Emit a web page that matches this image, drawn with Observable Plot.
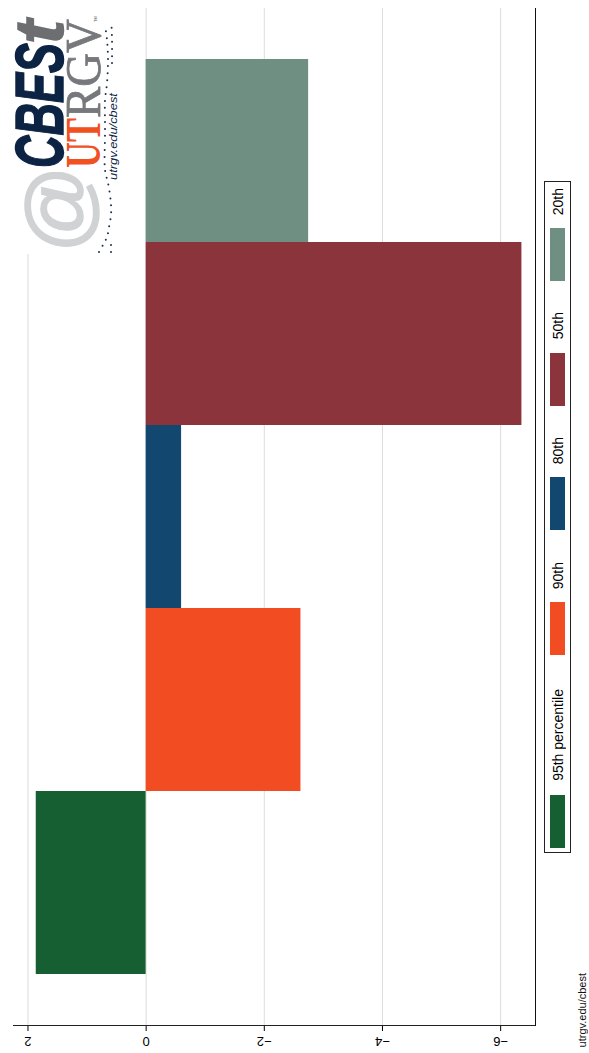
<!DOCTYPE html>
<html><head><meta charset="utf-8">
<script src="https://cdn.jsdelivr.net/npm/d3@7"></script>
<script src="https://cdn.jsdelivr.net/npm/@observablehq/plot@0.6"></script>
<style>
html,body{margin:0;padding:0;background:#fff;}
body{width:589px;height:1053px;position:relative;overflow:hidden;font-family:"Liberation Sans",sans-serif;}
svg{display:block;}
.v{writing-mode:vertical-rl;transform:rotate(180deg);white-space:nowrap;}
#legend{position:absolute;left:544px;top:181px;width:25px;height:670px;border:1px solid #222;background:#fff;font-size:14px;color:#000;}
#legend .lab{position:absolute;left:5px;width:16px;line-height:16px;}
#legend .sw{position:absolute;left:5px;width:15px;height:53px;}
#credit{position:absolute;left:576px;top:973px;font-size:11px;line-height:13px;color:#111;}
#logo{position:absolute;left:0;top:0;}
</style></head><body>
<div id="chart"></div>
<script>
const categories=["20th","50th","80th","90th","95th percentile"];
const values=[-2.75,-6.36,-0.6,-2.62,1.86];
const colors=["#6f8f82","#8c343b","#12476f","#f24c22","#165f33"];
const xTicks=[2,0,-2,-4,-6];
const legendLabelTops=[6,130,255,380,507];
const legendSwatchTops=[46,171,295,420,613];
const data=categories.map((c,i)=>({c,v:values[i]}));

const plot=Plot.plot({
  width:589,height:1053,marginTop:8,marginBottom:28,marginLeft:13,marginRight:54,
  style:{fontFamily:'"Liberation Sans",sans-serif',fontSize:"13px",color:"#000",background:"#fff"},
  x:{domain:[2.245,-6.59],ticks:xTicks,label:null},
  y:{domain:categories,range:[57.5,975.5],padding:0,axis:null,label:null},
  color:{domain:categories,range:colors},
  marks:[
    Plot.gridX(xTicks,{stroke:"#dcdcdc",strokeOpacity:1,strokeWidth:1}),
    Plot.barX(data,{x1:0,x2:"v",y:"c",fill:"c"}),
    Plot.axisX({ticks:xTicks,tickSize:6,tickPadding:5,tickRotate:180,textAnchor:"middle",lineAnchor:"bottom",stroke:"#000",fill:"#000",fontSize:13,label:null,tickFormat:d=>d<0?"\u2212"+Math.abs(d):String(d)}),
    Plot.frame({anchor:"bottom",stroke:"#222"}),
    Plot.frame({anchor:"right",stroke:"#111"})
  ]
});
document.getElementById("chart").appendChild(plot);

// legend
const legend=document.createElement("div");legend.id="legend";
categories.forEach((c,i)=>{
  const l=document.createElement("div");l.className="lab v";l.textContent=c;l.style.top=legendLabelTops[i]+"px";legend.appendChild(l);
  const s=document.createElement("div");s.className="sw";s.style.top=legendSwatchTops[i]+"px";s.style.background=colors[i];legend.appendChild(s);
});
document.body.appendChild(legend);

const credit=document.createElement("div");credit.id="credit";credit.className="v";credit.textContent="utrgv.edu/cbest";document.body.appendChild(credit);

// logo
const logo=d3.select(document.body).append("svg").attr("id","logo").attr("width",135).attr("height",256);
logo.append("rect").attr("width",132).attr("height",254).attr("fill","#fff");
function T(s,x,y,fs,fill,fam,wt,st,len,sw){
  const t=logo.append("text").text(s).attr("font-size",fs).attr("fill",fill).attr("font-family",fam).attr("font-weight",wt||"normal").attr("font-style",st||"normal");
  const k=len?len/t.node().getComputedTextLength():1;
  t.attr("transform",`translate(${x},${y}) rotate(-90) scale(${k},1)`);
  if(sw) t.attr("stroke",fill).attr("stroke-width",sw);
}
T("@",87,253,86,"#d0d2d3",'"Liberation Sans"',"normal","normal",88,1.5);
T("CBES",63,168,69,"#0c2344",'"Liberation Sans"',"bold","italic",125,1.5);
T("t",63,44,69,"#6d6e70",'"Liberation Sans"',"bold","italic",24,1.5);
T("UT",100,168,50,"#f1501f",'"Liberation Serif"',"bold","normal",50);
T("RGV",100,118,50,"#77787b",'"Liberation Serif"',"normal","normal",99,0.8);
T("utrgv.edu/cbest",117,180,11.5,"#0c2344",'"Liberation Sans"',"normal","italic",87);
T("TM",97,22,4,"#555",'"Liberation Sans"');
const dotLine=d3.line().curve(d3.curveCatmullRom);
const dots=pts=>logo.append("path").attr("d",dotLine(pts)).attr("fill","none").attr("stroke","#1b2f4f").attr("stroke-width",2).attr("stroke-linecap","round").attr("stroke-dasharray","0 7");
dots([[99,252],[103,245],[107,237],[109,227],[111,215],[111,205],[110,195],[108,183],[105,170],[105,135],[105,122],[105,100],[107,83],[108,60],[107,40],[105,25]]);
dots([[112,63],[112,40],[111.5,25]]);
dots([[111,252],[111,244]]);
</script>
</body></html>
